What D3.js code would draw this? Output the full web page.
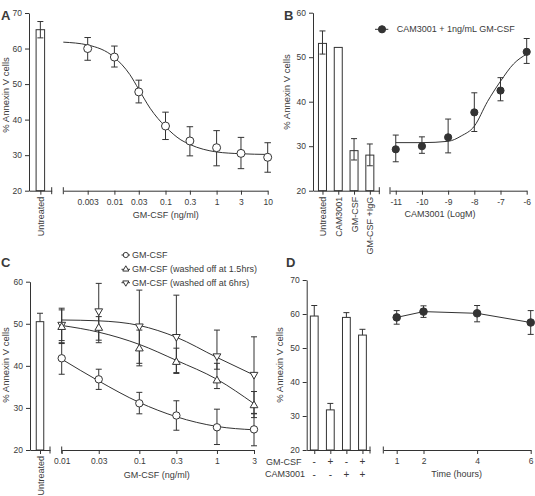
<!DOCTYPE html>
<html><head><meta charset="utf-8">
<script src="https://cdn.jsdelivr.net/npm/d3@7"></script>
<style>body{margin:0;background:#fff}svg{display:block}</style>
</head><body><svg id="c" width="535" height="496"></svg>
<script>
// ---------- DATA ----------
// Panel A
const aBarCats = ["Untreated"];
const aBarVals = [65.3];
const aBarLo = [63.0];
const aBarHi = [67.6];
const aDoses = [0.003, 0.01, 0.03, 0.1, 0.3, 1, 3, 10];
const aTickLabels = ["0.003", "0.01", "0.03", "0.1", "0.3", "1", "3", "10"];
const aMeans = [60.0, 57.6, 47.8, 38.2, 34.0, 32.1, 30.5, 29.4];
const aLo = [56.7, 54.8, 44.7, 34.4, 29.8, 27.0, 26.2, 25.2];
const aHi = [63.1, 60.7, 51.1, 42.1, 38.0, 36.9, 35.0, 33.5];
const aFitX = [0.001, 0.003, 0.01, 0.02, 0.03, 0.05, 0.1, 0.2, 0.3, 1, 3, 10];
const aFitY = [61.8, 61.0, 57.5, 52.7, 48.5, 43.2, 38.0, 34.3, 33.0, 30.9, 30.4, 30.2];
const aYTicks = [20, 30, 40, 50, 60, 70];

// Panel B
const bBarCats = ["Untreated", "CAM3001", "GM-CSF", "GM-CSF +IgG"];
const bBarVals = [53.1, 52.2, 29.0, 28.0];
const bBarLo = [50.7, null, 26.9, 25.6];
const bBarHi = [55.9, null, 31.7, 30.5];
const bLogM = [-11, -10, -9, -8, -7, -6];
const bMeans = [29.3, 30.0, 32.0, 37.6, 42.5, 51.2];
const bLo = [26.5, 28.4, 28.5, 33.3, 40.2, 48.6];
const bHi = [32.5, 32.1, 36.1, 42.0, 45.4, 54.2];
const bFitX = [-11, -10, -9, -8.5, -8, -7.5, -7, -6.5, -6];
const bFitY = [30.8, 30.8, 31.1, 32.3, 34.5, 40.0, 44.6, 48.5, 50.7];
const bYTicks = [20, 30, 40, 50, 60];
const bLegend = "CAM3001 + 1ng/mL GM-CSF";

// Panel C
const cBarCats = ["Untreated"];
const cBarVals = [50.5];
const cBarHi = [52.5];
const cDoses = [0.01, 0.03, 0.1, 0.3, 1, 3];
const cTickLabels = ["0.01", "0.03", "0.1", "0.3", "1", "3"];
const cSeriesNames = ["GM-CSF", "GM-CSF (washed off at 1.5hrs)", "GM-CSF (washed off at 6hrs)"];
const cGM = [41.8, 36.8, 31.1, 28.2, 25.4, 24.9];
const cGMLo = [38.0, 34.4, 28.6, 24.7, 21.3, 21.0];
const cGMHi = [45.5, 39.2, 33.7, 31.7, 29.7, 28.6];
const cW15 = [49.3, 49.1, 44.2, 41.0, 36.6, 30.7];
const cW15Lo = [45.3, 45.5, 40.0, 38.4, 34.6, 27.7];
const cW15Hi = [53.3, 51.7, 48.5, 44.2, 40.6, 33.9];
const cW6 = [49.7, 52.9, 49.3, 46.8, 42.2, 37.8];
const cW6Lo = [46.0, 46.1, 40.6, 38.2, 39.2, 28.7];
const cW6Hi = [53.7, 59.6, 58.0, 56.8, 48.5, 46.9];
const cFitGM = [41.6, 36.4, 31.3, 27.9, 25.6, 24.8];
const cFitW15 = [49.6, 48.0, 45.1, 41.3, 36.8, 31.0];
const cFitW6 = [50.9, 50.7, 49.6, 46.8, 42.0, 37.8];
const cYTicks = [20, 30, 40, 50, 60];

// Panel D
const dBarCats = ["c1", "c2", "c3", "c4"];
const dBarVals = [59.4, 31.8, 59.0, 53.8];
const dBarHi = [62.5, 33.7, 60.4, 55.5];
const dGMCSF = ["-", "+", "-", "+"];
const dCAM = ["-", "-", "+", "+"];
const dHours = [1, 2, 4, 6];
const dMeans = [59.0, 60.7, 60.2, 57.5];
const dLo = [57.0, 59.0, 57.7, 54.0];
const dHi = [61.0, 62.4, 62.5, 61.0];
const dYTicks = [20, 30, 40, 50, 60, 70];

// ---------- HELPERS ----------
const FONT = '"Liberation Sans", Arial, Helvetica, sans-serif';
const INK = "#333";
const TXT = "#3a3a3a";
const svg = d3.select("#c");

function styleAxis(g, fs) {
  g.attr("font-family", FONT).attr("font-size", fs);
  g.selectAll("path,line").attr("stroke", INK).attr("stroke-width", 1);
  g.selectAll("text").attr("fill", TXT);
}
function yAxis(sc, x, ticks) {
  const g = svg.append("g").attr("transform", `translate(${x},0)`)
    .call(d3.axisLeft(sc).tickValues(ticks).tickSize(4).tickSizeOuter(0).tickPadding(3));
  styleAxis(g, 8.5);
}
function breakTick(x, y) {
  svg.append("line").attr("x1", x).attr("x2", x).attr("y1", y - 3.5).attr("y2", y + 3.5)
    .attr("stroke", INK).attr("stroke-width", 1);
}
function barAxis(band, y0, showLabels) {
  const g = svg.append("g").attr("transform", `translate(0,${y0})`)
    .call(d3.axisBottom(band).tickSize(4).tickSizeOuter(0).tickFormat(showLabels ? d => d : () => ""));
  styleAxis(g, 9);
  if (showLabels) {
    g.selectAll(".tick text").attr("text-anchor", "end").attr("transform", "rotate(-90)")
      .attr("x", -6).attr("y", 0).attr("dy", "0.35em");
  }
  breakTick(band.range()[1], y0);
}
function valueAxis(sc, y0, ticks, labels) {
  const g = svg.append("g").attr("transform", `translate(0,${y0})`)
    .call(d3.axisBottom(sc).tickValues(ticks).tickFormat((d, i) => labels[i]).tickSize(4).tickSizeOuter(0).tickPadding(4));
  styleAxis(g, 8.5);
  breakTick(sc.range()[0], y0);
}
function bars(band, yS, vals, w) {
  svg.append("g").selectAll("rect").data(vals).join("rect")
    .attr("x", (d, i) => band(band.domain()[i]) - w / 2).attr("width", w)
    .attr("y", d => yS(d)).attr("height", d => yS.range()[0] - yS(d))
    .attr("fill", "#fff").attr("stroke", INK).attr("stroke-width", 1);
}
function errBar(x, lo, hi, yS, cap) {
  const g = svg.append("g").attr("stroke", INK).attr("stroke-width", 1);
  g.append("line").attr("x1", x).attr("x2", x).attr("y1", yS(lo)).attr("y2", yS(hi));
  g.append("line").attr("x1", x - cap / 2).attr("x2", x + cap / 2).attr("y1", yS(hi)).attr("y2", yS(hi));
  if (lo !== null) g.append("line").attr("x1", x - cap / 2).attr("x2", x + cap / 2).attr("y1", yS(lo)).attr("y2", yS(lo));
}
function errBarUp(x, v, hi, yS, cap) {
  const g = svg.append("g").attr("stroke", INK).attr("stroke-width", 1);
  g.append("line").attr("x1", x).attr("x2", x).attr("y1", yS(v)).attr("y2", yS(hi));
  g.append("line").attr("x1", x - cap / 2).attr("x2", x + cap / 2).attr("y1", yS(hi)).attr("y2", yS(hi));
}
function fitCurve(xs, ys, xS, yS) {
  const line = d3.line().x(d => xS(d[0])).y(d => yS(d[1])).curve(d3.curveMonotoneX);
  svg.append("path").attr("d", line(xs.map((x, i) => [x, ys[i]])))
    .attr("fill", "none").attr("stroke", INK).attr("stroke-width", 1);
}
function label(txt, x, y, opts = {}) {
  const t = svg.append("text").text(txt).attr("font-family", FONT).attr("font-size", opts.size || 9)
    .attr("fill", TXT).attr("text-anchor", opts.anchor || "middle");
  if (opts.rotate) t.attr("transform", `translate(${x},${y}) rotate(-90)`).attr("dy", "0.35em");
  else t.attr("x", x).attr("y", y).attr("dy", opts.dy || "0.35em");
  if (opts.bold) t.attr("font-weight", "bold");
  return t;
}
function marker(type, x, y, size, filled) {
  let p;
  if (type === "circle") {
    p = svg.append("circle").attr("cx", x).attr("cy", y).attr("r", size);
  } else {
    const sym = d3.symbol().type(d3.symbolTriangle).size(size)();
    p = svg.append("path").attr("d", sym)
      .attr("transform", `translate(${x},${y})` + (type === "down" ? " rotate(180)" : ""));
  }
  p.attr("fill", filled ? INK : "#fff").attr("stroke", INK).attr("stroke-width", 1);
}

// ---------- PANEL A ----------
const yA = d3.scaleLinear().domain([20, 70]).range([190.7, 13]);
const bandA = d3.scalePoint().domain(aBarCats).range([29, 51.7]).padding(0.5);
const xA = d3.scaleLog().domain([0.001, 10]).range([63.3, 267.7]);
bars(bandA, yA, aBarVals, 8.5);
aBarVals.forEach((v, i) => errBar(bandA(aBarCats[i]), aBarLo[i], aBarHi[i], yA, 6));
yAxis(yA, 29, aYTicks);
barAxis(bandA, 190.7, true);
valueAxis(xA, 190.7, aDoses, aTickLabels);
fitCurve(aFitX, aFitY, xA, yA);
aDoses.forEach((d, i) => errBar(xA(d), aLo[i], aHi[i], yA, 6.5));
aDoses.forEach((d, i) => marker("circle", xA(d), yA(aMeans[i]), 4, false));
label("GM-CSF (ng/ml)", 165.7, 215);
label("% Annexin V cells", 6, 95, { rotate: true, size: 9.5 });
label("A", 1, 15, { anchor: "start", bold: true, size: 13, dy: 0 });

// ---------- PANEL B ----------
const yB = d3.scaleLinear().domain([20, 60]).range([190.7, 12.7]);
const bandB = d3.scalePoint().domain(bBarCats).range([313, 379.3]).padding(0.6);
const xB = d3.scaleLinear().domain([-11.22, -6]).range([390, 526.7]);
bars(bandB, yB, bBarVals, 8);
bBarVals.forEach((v, i) => { if (bBarHi[i] !== null) errBar(bandB(bBarCats[i]), bBarLo[i], bBarHi[i], yB, 6); });
yAxis(yB, 313, bYTicks);
barAxis(bandB, 190.7, true);
valueAxis(xB, 190.7, bLogM, bLogM.map(String));
fitCurve(bFitX, bFitY, xB, yB);
bLogM.forEach((d, i) => errBar(xB(d), bLo[i], bHi[i], yB, 6));
bLogM.forEach((d, i) => marker("circle", xB(d), yB(bMeans[i]), 3.6, true));
label("CAM3001 (LogM)", 440, 214);
label("% Annexin V cells", 286.7, 92, { rotate: true, size: 9.5 });
label("B", 284, 15, { anchor: "start", bold: true, size: 13, dy: 0 });
svg.append("line").attr("x1", 375).attr("x2", 388.3).attr("y1", 29.3).attr("y2", 29.3).attr("stroke", INK);
marker("circle", 382, 29.3, 3.6, true);
label(bLegend, 396.7, 29.3, { anchor: "start" });

// ---------- PANEL C ----------
const yC = d3.scaleLinear().domain([20, 60]).range([450, 281.7]);
const bandC = d3.scalePoint().domain(cBarCats).range([30, 50]).padding(0.5);
const xC = d3.scaleLog().domain([0.01, 3]).range([61.7, 254]);
bars(bandC, yC, cBarVals, 7.5);
cBarVals.forEach((v, i) => errBarUp(bandC(cBarCats[i]), v, cBarHi[i], yC, 6));
yAxis(yC, 30, cYTicks);
barAxis(bandC, 450, true);
valueAxis(xC, 450, cDoses, cTickLabels);
fitCurve(cDoses, cFitGM, xC, yC);
fitCurve(cDoses, cFitW15, xC, yC);
fitCurve(cDoses, cFitW6, xC, yC);
cDoses.forEach((d, i) => {
  errBar(xC(d), cW6Lo[i], cW6Hi[i], yC, 6);
  errBar(xC(d), cW15Lo[i], cW15Hi[i], yC, 6);
  errBar(xC(d), cGMLo[i], cGMHi[i], yC, 6);
});
cDoses.forEach((d, i) => {
  marker("down", xC(d), yC(cW6[i]) - 0.5, 26, false);
  marker("up", xC(d), yC(cW15[i]) + 0.5, 26, false);
  marker("circle", xC(d), yC(cGM[i]), 3.7, false);
});
label("GM-CSF (ng/ml)", 156.7, 475);
label("% Annexin V cells", 6, 365, { rotate: true, size: 9.5 });
label("C", 1, 262, { anchor: "start", bold: true, size: 13, dy: 0 });
const cLegY = [255, 269.3, 282.7];
const cLegType = ["circle", "up", "down"];
cSeriesNames.forEach((n, i) => {
  svg.append("line").attr("x1", 121.5).attr("x2", 130).attr("y1", cLegY[i]).attr("y2", cLegY[i]).attr("stroke", INK);
  if (cLegType[i] === "circle") marker("circle", 125.8, cLegY[i], 2.6, false);
  else marker(cLegType[i], 125.8, cLegY[i], 16, false);
  label(n, 132, cLegY[i], { anchor: "start" });
});

// ---------- PANEL D ----------
const yD = d3.scaleLinear().domain([20, 70]).range([450, 280]);
const bandD = d3.scalePoint().domain(dBarCats).range([306.7, 370]).padding(0.47);
const xD = d3.scaleLinear().domain([0.5, 6]).range([383.3, 530.7]);
bars(bandD, yD, dBarVals, 7.8);
dBarVals.forEach((v, i) => errBarUp(bandD(dBarCats[i]), v, dBarHi[i], yD, 6));
yAxis(yD, 306.7, dYTicks);
barAxis(bandD, 450, false);
valueAxis(xD, 450, dHours, dHours.map(String));
dBarCats.forEach((c, i) => {
  label(dGMCSF[i], bandD(c), 461.7, { size: 10 });
  label(dCAM[i], bandD(c), 474.3, { size: 10 });
});
label("GM-CSF", 266, 461.7, { anchor: "start" });
label("CAM3001", 265, 474.3, { anchor: "start" });
svg.append("path").attr("d", d3.line().x(d => xD(d[0])).y(d => yD(d[1]))(dHours.map((h, i) => [h, dMeans[i]])))
  .attr("fill", "none").attr("stroke", INK).attr("stroke-width", 1);
dHours.forEach((h, i) => errBar(xD(h), dLo[i], dHi[i], yD, 6));
dHours.forEach((h, i) => marker("circle", xD(h), yD(dMeans[i]), 3.8, true));
label("Time (hours)", 456.7, 474.3);
label("% Annexin V cells", 280, 365, { rotate: true, size: 9.5 });
label("D", 286, 262, { anchor: "start", bold: true, size: 13, dy: 0 });
</script></body></html>
